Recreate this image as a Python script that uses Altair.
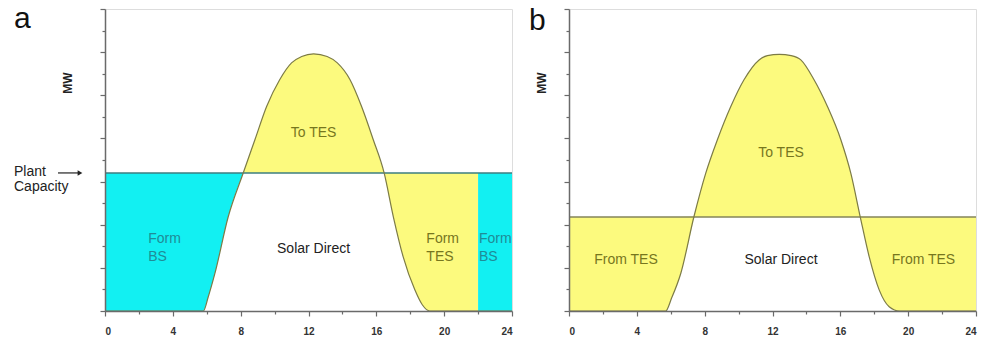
import altair as alt
import pandas as pd

# ---------------- data ----------------
# panel a: solar field output curve (hour, MW)
hours_a = [0, 5.8, 6.09, 6.48, 7.27, 8.15, 8.84, 9.53, 10.3, 11.0, 11.6, 12.3, 13.1, 13.7,
           14.45, 15.13, 15.82, 16.46, 17.0, 17.58, 18.27, 18.7, 19.15, 22, 24]
mw_a = [0, 0, 0.33, 0.87, 2.19, 3.2, 3.97, 4.74, 5.36, 5.75, 5.9, 5.96, 5.9, 5.75,
        5.36, 4.74, 3.97, 3.2, 2.19, 1.26, 0.49, 0.15, 0, 0, 0]
cap_a = 3.2
seg_bounds_a = [0, 8.15, 16.46, 22, 24]
seg_kind_a = ["BS", "TES", "TES", "BS"]

# panel b
hours_b = [0, 5.7, 6.05, 6.59, 7.37, 8.06, 8.75, 9.54, 10.32, 11.21, 11.7, 12.4, 13.1, 13.67,
           14.45, 15.24, 16.03, 16.62, 17.17, 17.7, 18.29, 18.88, 19.5, 24]
mw_b = [0, 0, 0.3, 0.87, 2.19, 3.19, 3.97, 4.74, 5.36, 5.82, 5.92, 5.95, 5.92, 5.82,
        5.36, 4.74, 3.97, 3.19, 2.19, 1.26, 0.49, 0.1, 0, 0]
cap_b = 2.18
seg_bounds_b = [0, 7.37, 17.17, 24]
seg_kind_b = ["TES", "TES", "TES"]

# region labels (text, hour, MW, align, kind)
labels_a_text = ["Form", "BS", "Solar Direct", "Form", "TES", "Form", "BS", "To TES"]
labels_a_x = [2.55, 2.55, 12.3, 18.95, 18.95, 22.05, 22.05, 12.3]
labels_a_y = [1.67, 1.25, 1.44, 1.67, 1.25, 1.67, 1.25, 4.13]
labels_a_align = ["left", "left", "center", "left", "left", "left", "left", "center"]
labels_a_kind = ["BS", "BS", "SD", "TES", "TES", "BS", "BS", "TES"]

labels_b_text = ["From TES", "Solar Direct", "From TES", "To TES"]
labels_b_x = [3.36, 12.5, 20.9, 12.5]
labels_b_y = [1.18, 1.18, 1.18, 3.67]
labels_b_align = ["center", "center", "center", "center"]
labels_b_kind = ["TES", "SD", "TES", "TES"]

# "Plant Capacity" note beside panel a (baselines, MW)
plant_text = ["Plant", "Capacity"]
plant_y = [3.13, 2.77]

x_ticks = [0, 2, 4, 6, 8, 10, 12, 14, 16, 18, 20, 22, 24]
y_ticks = [0, 0.5, 1, 1.5, 2, 2.5, 3, 3.5, 4, 4.5, 5, 5.5, 6, 6.5, 7]

CYAN = "#12F0F2"
YELLOW = "#FCFA7E"
CURVE = "#7C7B46"
TEXT_COL = {"BS": "#1F8C97", "TES": "#76761E", "SD": "#222222"}
FONT = "Liberation Sans"
W, H = 407, 302

xs = alt.Scale(domain=[0, 24], nice=False, zero=False)
ys = alt.Scale(domain=[0, 7], nice=False)
xaxis = alt.Axis(values=x_ticks, title=None, grid=False,
                 labelExpr="datum.value % 4 === 0 ? datum.label : ''",
                 tickSize={"condition": {"test": "datum.value % 4 === 0", "value": 5}, "value": 3},
                 labelFontSize=10, labelFontWeight="bold", labelColor="#333333",
                 labelPadding=10, domainColor="#6a6a6a", tickColor="#6a6a6a",
                 domainWidth=1.5, tickWidth=1.2, zindex=1)
yaxis = alt.Axis(values=y_ticks, title=None, grid=False, labels=False,
                 tickSize={"condition": {"test": "datum.value % 1 === 0", "value": 5}, "value": 3},
                 domainColor="#6a6a6a", tickColor="#6a6a6a", domainWidth=1.5, tickWidth=1.2,
                 zindex=1)


def X(f):
    return alt.X(f, type="quantitative", scale=xs, axis=xaxis)


def Y(f):
    return alt.Y(f, type="quantitative", scale=ys, axis=yaxis)


def segments(hours, mw, cap, bounds, kinds):
    rows = []
    for i, (s, e) in enumerate(zip(bounds[:-1], bounds[1:])):
        for h, m in zip(hours, mw):
            if s <= h <= e:
                rows.append({"seg": i, "fill": CYAN if kinds[i] == "BS" else YELLOW, "x": h,
                             "lo": min(m, cap), "hi": max(m, cap)})
    return pd.DataFrame(rows)


def panel(hours, mw, cap, bounds, kinds, ltext, lx, ly, lalign, lkind,
          cap_color, letter, letter_x, letter_y, mw_x, plant=False):
    seg_df = segments(hours, mw, cap, bounds, kinds)
    curve_df = pd.DataFrame({"x": hours, "y": mw})
    cap_df = pd.DataFrame({"x": [0], "x2": [24], "y": [cap]})
    lab_df = pd.DataFrame({"t": ltext, "x": lx, "y": ly, "al": lalign,
                           "c": [TEXT_COL[k] for k in lkind]})

    areas = alt.Chart(seg_df).mark_area(interpolate="monotone", opacity=1).encode(
        x=X("x"), y=Y("lo"), y2="hi",
        color=alt.Color("fill:N", scale=None),
        detail="seg:N",
    )
    curve = alt.Chart(curve_df).mark_line(interpolate="monotone", color=CURVE,
                                           strokeWidth=1.2).encode(x=X("x"), y=Y("y"))
    capline = alt.Chart(cap_df).mark_rule(color=cap_color, strokeWidth=1.4).encode(
        x=X("x"), x2="x2", y=Y("y"))

    txt_layers = []
    for al in ["left", "center"]:
        sub = lab_df[lab_df["al"] == al]
        if len(sub):
            txt_layers.append(
                alt.Chart(sub).mark_text(align=al, baseline="middle", font=FONT, fontSize=14).encode(
                    x=X("x"), y=Y("y"), text="t:N",
                    color=alt.Color("c:N", scale=None),
                )
            )

    ann = pd.DataFrame({"letter": [letter], "mw": ["MW"], "cap": [cap]})
    letter_mark = alt.Chart(ann).mark_text(align="left", baseline="alphabetic", font=FONT,
                                           fontSize=30, color="#111111").encode(
        x=alt.value(letter_x), y=alt.value(letter_y), text="letter:N")
    mw_mark = alt.Chart(ann).mark_text(align="center", baseline="middle", font=FONT, angle=270,
                                       fontSize=12, fontWeight="bold", color="#222222").encode(
        x=alt.value(mw_x), y=alt.value(74), text="mw:N")
    layers = [areas, capline, curve] + txt_layers + [letter_mark, mw_mark]
    if plant:
        pl = pd.DataFrame({"t": plant_text, "y": plant_y})
        plant_txt = alt.Chart(pl).mark_text(align="left", baseline="alphabetic", font=FONT,
                                            fontSize=14, color="#222222").encode(
            x=alt.value(-91), y=Y("y"), text="t:N")
        arrow_line = alt.Chart(ann).mark_rule(color="#222222", strokeWidth=1.2).encode(
            x=alt.value(-47), x2=alt.value(-27), y=Y("cap"))
        arrow_head = alt.Chart(ann).mark_point(shape="triangle-right", filled=True, size=30,
                                               color="#222222", opacity=1).encode(
            x=alt.value(-25), y=Y("cap"))
        layers += [plant_txt, arrow_line, arrow_head]
    return alt.layer(*layers).properties(width=W, height=H)


pa = panel(hours_a, mw_a, cap_a, seg_bounds_a, seg_kind_a,
           labels_a_text, labels_a_x, labels_a_y, labels_a_align, labels_a_kind,
           "#3C7E80", "a", -91, 19, -37, plant=True)
pb = panel(hours_b, mw_b, cap_b, seg_bounds_b, seg_kind_b,
           labels_b_text, labels_b_x, labels_b_y, labels_b_align, labels_b_kind,
           "#85845A", "b", -40, 21, -27)

chart = alt.hconcat(pa, pb, spacing=13).properties(
    padding={"left": 13, "top": 3, "right": 2, "bottom": 2}
).configure_view(stroke="#8a8a8a", strokeWidth=1.5).configure(background="white")

chart.save("out.html", embed_options={"renderer": "svg", "actions": False})
